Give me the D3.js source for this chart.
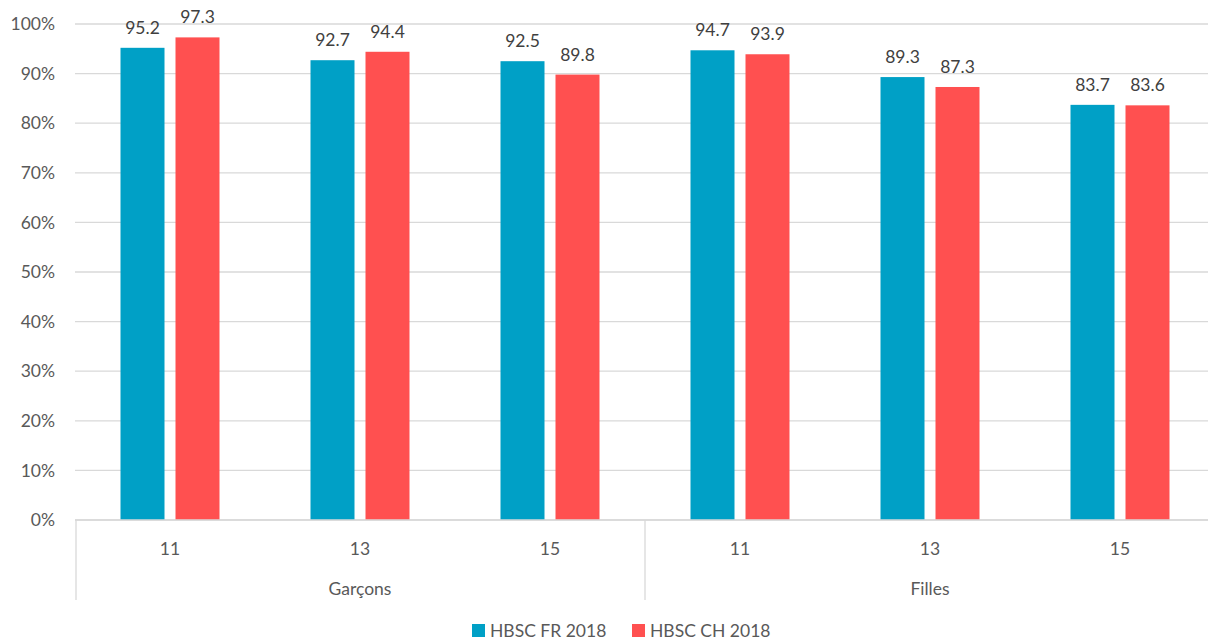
<!DOCTYPE html>
<html><head><meta charset="utf-8">
<script src="https://cdn.jsdelivr.net/npm/d3@7"></script>
<style>body{margin:0;background:#fff;}svg{display:block;font-family:Lato,"Open Sans",sans-serif;}</style>
</head><body><svg id="c" width="1208" height="641"></svg>
<script>
const groups = ["Garçons", "Filles"];
const ages = ["11", "13", "15"];
const seriesNames = ["HBSC FR 2018", "HBSC CH 2018"];
const frValues = [95.2, 92.7, 92.5, 94.7, 89.3, 83.7];
const chValues = [97.3, 94.4, 89.8, 93.9, 87.3, 83.6];
const yTicks = [0, 10, 20, 30, 40, 50, 60, 70, 80, 90, 100];
const colors = ["#00A0C6", "#FF5050"];

(function () {
const svg = d3.select("#c");
const mLeft = 75, mRight = 1215, mTop = 24, mBottom = 520;
const cats = [];
groups.forEach(g => ages.forEach(a => cats.push(g + "|" + a)));
const x = d3.scaleBand().domain(cats).range([mLeft, mRight]);
const y = d3.scaleLinear().domain([0, 100]).range([mBottom, mTop]);
const pairW = 99;
const xs = d3.scaleBand().domain([0, 1]).range([0, pairW]).paddingInner(0.2);
const textColor = "#595959";
const fs = 17.5;

svg.append("g").selectAll("line").data(yTicks).join("line")
  .attr("x1", mLeft).attr("x2", mRight)
  .attr("y1", d => y(d)).attr("y2", d => y(d))
  .attr("stroke", "#d9d9d9").attr("stroke-width", 1.3);

svg.append("g").selectAll("text").data(yTicks).join("text")
  .attr("x", 55).attr("y", d => y(d)).attr("dy", "0.35em")
  .attr("text-anchor", "end").attr("font-size", fs).attr("fill", textColor)
  .text(d => d + "%");

const series = [frValues, chValues];
series.forEach((vals, si) => {
  const g = svg.append("g");
  const bx = i => x(cats[i]) + x.bandwidth() / 2 - pairW / 2 + xs(si);
  g.selectAll("rect").data(vals).join("rect")
    .attr("x", (d, i) => bx(i))
    .attr("width", xs.bandwidth())
    .attr("y", d => y(d)).attr("height", d => mBottom - y(d))
    .attr("fill", colors[si]);
  g.selectAll("text").data(vals).join("text")
    .attr("x", (d, i) => bx(i) + xs.bandwidth() / 2)
    .attr("y", d => y(d) - 14)
    .attr("text-anchor", "middle").attr("font-size", fs).attr("fill", "#404040")
    .text(d => d.toFixed(1));
});

svg.append("line").attr("x1", mLeft).attr("x2", mRight).attr("y1", mBottom).attr("y2", mBottom)
  .attr("stroke", "#d9d9d9").attr("stroke-width", 1.3);
const dividers = [mLeft + 1, x(cats[3]), mRight];
svg.append("g").selectAll("line").data(dividers).join("line")
  .attr("x1", d => d).attr("x2", d => d).attr("y1", mBottom).attr("y2", 600)
  .attr("stroke", "#d9d9d9").attr("stroke-width", 1.3);

svg.append("g").selectAll("text").data(cats).join("text")
  .attr("x", d => x(d) + x.bandwidth() / 2).attr("y", 555)
  .attr("text-anchor", "middle").attr("font-size", fs).attr("fill", textColor)
  .text(d => d.split("|")[1]);
svg.append("g").selectAll("text").data(groups).join("text")
  .attr("x", (d, i) => x(d + "|" + ages[1]) + x.bandwidth() / 2).attr("y", 595)
  .attr("text-anchor", "middle").attr("font-size", fs).attr("fill", textColor)
  .text(d => d);

const legX = [472, 632];
const leg = svg.append("g").selectAll("g").data(seriesNames).join("g")
  .attr("transform", (d, i) => `translate(${legX[i]},624)`);
leg.append("rect").attr("width", 13).attr("height", 13).attr("fill", (d, i) => colors[i]);
leg.append("text").attr("x", 18).attr("y", 7).attr("dy", "0.35em")
  .attr("font-size", fs).attr("fill", textColor).text(d => d);
})();
</script></body></html>
